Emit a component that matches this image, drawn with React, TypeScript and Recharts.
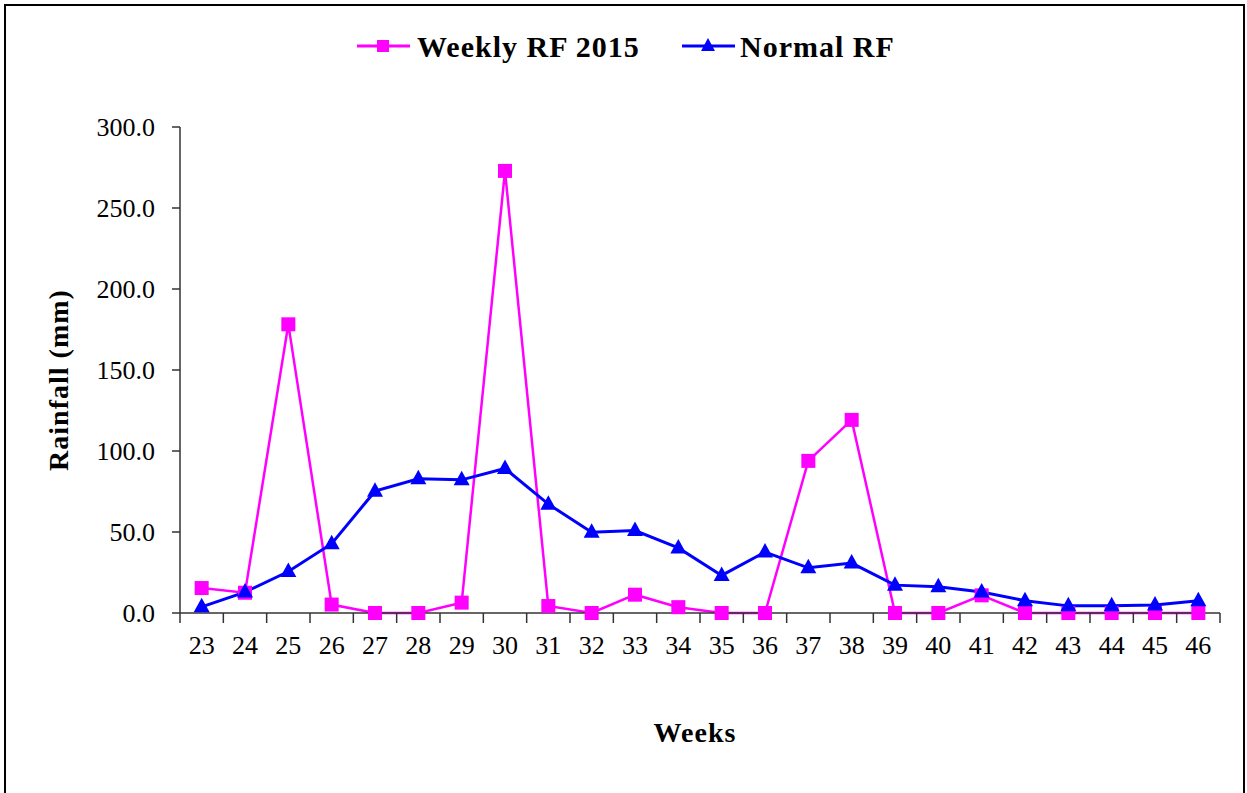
import { LineChart, Line, XAxis, YAxis, Label, Legend } from 'recharts';

const weeks = ['23', '24', '25', '26', '27', '28', '29', '30', '31', '32', '33', '34', '35', '36', '37', '38', '39', '40', '41', '42', '43', '44', '45', '46'];
const weeklyRf2015 = [15.4, 12.5, 178.2, 5.2, 0, 0, 6.4, 272.9, 4.3, 0, 11.3, 3.6, 0, 0, 93.9, 119.2, 0, 0, 10.9, 0, 0, 0, 0, 0];
const normalRf = [3.8, 12.9, 25.6, 42.8, 75.2, 82.8, 82.2, 89.2, 67.2, 49.8, 50.9, 40.2, 23.2, 37.6, 27.9, 30.8, 17.2, 16.2, 13.0, 7.6, 4.4, 4.4, 5.0, 7.6];
const yTicks = [0, 50, 100, 150, 200, 250, 300];

const data = weeks.map((w, i) => ({ week: w, weekly: weeklyRf2015[i], normal: normalRf[i] }));

const FONT = '"Liberation Serif", "Times New Roman", serif';
const PINK = '#FF00FF';
const BLUE = '#0000FF';
const PLOT_LEFT = 180;
const PLOT_RIGHT = 1220;
const BAND = (PLOT_RIGHT - PLOT_LEFT) / weeks.length;
const AXIS = '#333';

const SquareDot = (props: any) => {
    const { cx, cy, index } = props;
    if (cx == null || cy == null) return <g key={`sq-${index}`} />;
    return <rect key={`sq-${index}`} x={cx - 7} y={cy - 7} width={14} height={14} fill={PINK} />;
};

const TriangleDot = (props: any) => {
    const { cx, cy, index } = props;
    if (cx == null || cy == null) return <g key={`tr-${index}`} />;
    return <polygon key={`tr-${index}`} points={`${cx},${cy - 9} ${cx + 8},${cy + 5.5} ${cx - 8},${cy + 5.5}`} fill={BLUE} />;
};

// labels sit in the middle of each band, tick marks on the band edges
const WeekTick = (props: any) => {
    const { x, y, payload, index } = props;
    return (
        <g>
            <line x1={x - BAND / 2} y1={y} x2={x - BAND / 2} y2={y + 10} stroke={AXIS} strokeWidth={1.5} />
            {index === weeks.length - 1 && (
                <line x1={x + BAND / 2} y1={y} x2={x + BAND / 2} y2={y + 10} stroke={AXIS} strokeWidth={1.5} />
            )}
            <text x={x} y={y + 41} textAnchor="middle" fontSize={26} fontFamily={FONT} fill="#000">
                {payload.value}
            </text>
        </g>
    );
};

const renderLegend = () => (
    <svg width={1247} height={60} style={{ display: 'block' }}>
        <line x1={357} y1={26} x2={410} y2={26} stroke={PINK} strokeWidth={3} />
        <rect x={377} y={20} width={12} height={12} fill={PINK} />
        <text x={417} y={37} fontSize={30} fontWeight="bold" fontFamily={FONT} letterSpacing={1} fill="#000">
            Weekly RF 2015
        </text>
        <line x1={682} y1={26} x2={735} y2={26} stroke={BLUE} strokeWidth={3} />
        <polygon points="708,18 715,31 701,31" fill={BLUE} />
        <text x={740} y={37} fontSize={30} fontWeight="bold" fontFamily={FONT} letterSpacing={1} fill="#000">
            Normal RF
        </text>
    </svg>
);

export default function App() {
    return (
        <div style={{ position: 'absolute', left: 0, top: 0, width: 1247, height: 793, background: '#fff', overflow: 'hidden' }}>
            <div style={{ position: 'absolute', left: 4, top: 4, width: 1237, height: 820, border: '2.5px solid #000' }} />
            <LineChart width={1247} height={793} data={data} margin={{ top: 127, right: 27, left: 0, bottom: 0 }}>
                <XAxis
                    dataKey="week"
                    height={180}
                    interval={0}
                    padding={{ left: BAND / 2, right: BAND / 2 }}
                    tickSize={0}
                    tickMargin={0}
                    tickLine={false}
                    axisLine={{ stroke: AXIS, strokeWidth: 1.5 }}
                    tick={<WeekTick />}
                >
                    <Label
                        content={() => (
                            <text x={695} y={742} textAnchor="middle" fontSize={28} fontWeight="bold" fontFamily={FONT} letterSpacing={1} fill="#000">
                                Weeks
                            </text>
                        )}
                    />
                </XAxis>
                <YAxis
                    width={180}
                    domain={[0, 300]}
                    ticks={yTicks}
                    interval={0}
                    tickSize={8}
                    tickMargin={17}
                    tickFormatter={(v: number) => v.toFixed(1)}
                    tick={{ fontSize: 26, fontFamily: FONT, fill: '#000' }}
                    tickLine={{ stroke: AXIS, strokeWidth: 1.5 }}
                    axisLine={{ stroke: AXIS, strokeWidth: 1.5 }}
                >
                    <Label
                        content={() => (
                            <text x={58} y={380} transform="rotate(-90 58 380)" textAnchor="middle" dominantBaseline="central" fontSize={28} fontWeight="bold" fontFamily={FONT} letterSpacing={1} fill="#000">
                                Rainfall (mm)
                            </text>
                        )}
                    />
                </YAxis>
                <Legend
                    verticalAlign="middle"
                    align="center"
                    layout="horizontal"
                    content={renderLegend}
                    wrapperStyle={{ top: 20, left: 0, width: 1247 }}
                />
                <Line
                    type="linear"
                    dataKey="weekly"
                    name="Weekly RF 2015"
                    stroke={PINK}
                    strokeWidth={2.5}
                    dot={SquareDot}
                    activeDot={false}
                    isAnimationActive={false}
                />
                <Line
                    type="linear"
                    dataKey="normal"
                    name="Normal RF"
                    stroke={BLUE}
                    strokeWidth={3}
                    dot={TriangleDot}
                    activeDot={false}
                    isAnimationActive={false}
                />
            </LineChart>
        </div>
    );
}
